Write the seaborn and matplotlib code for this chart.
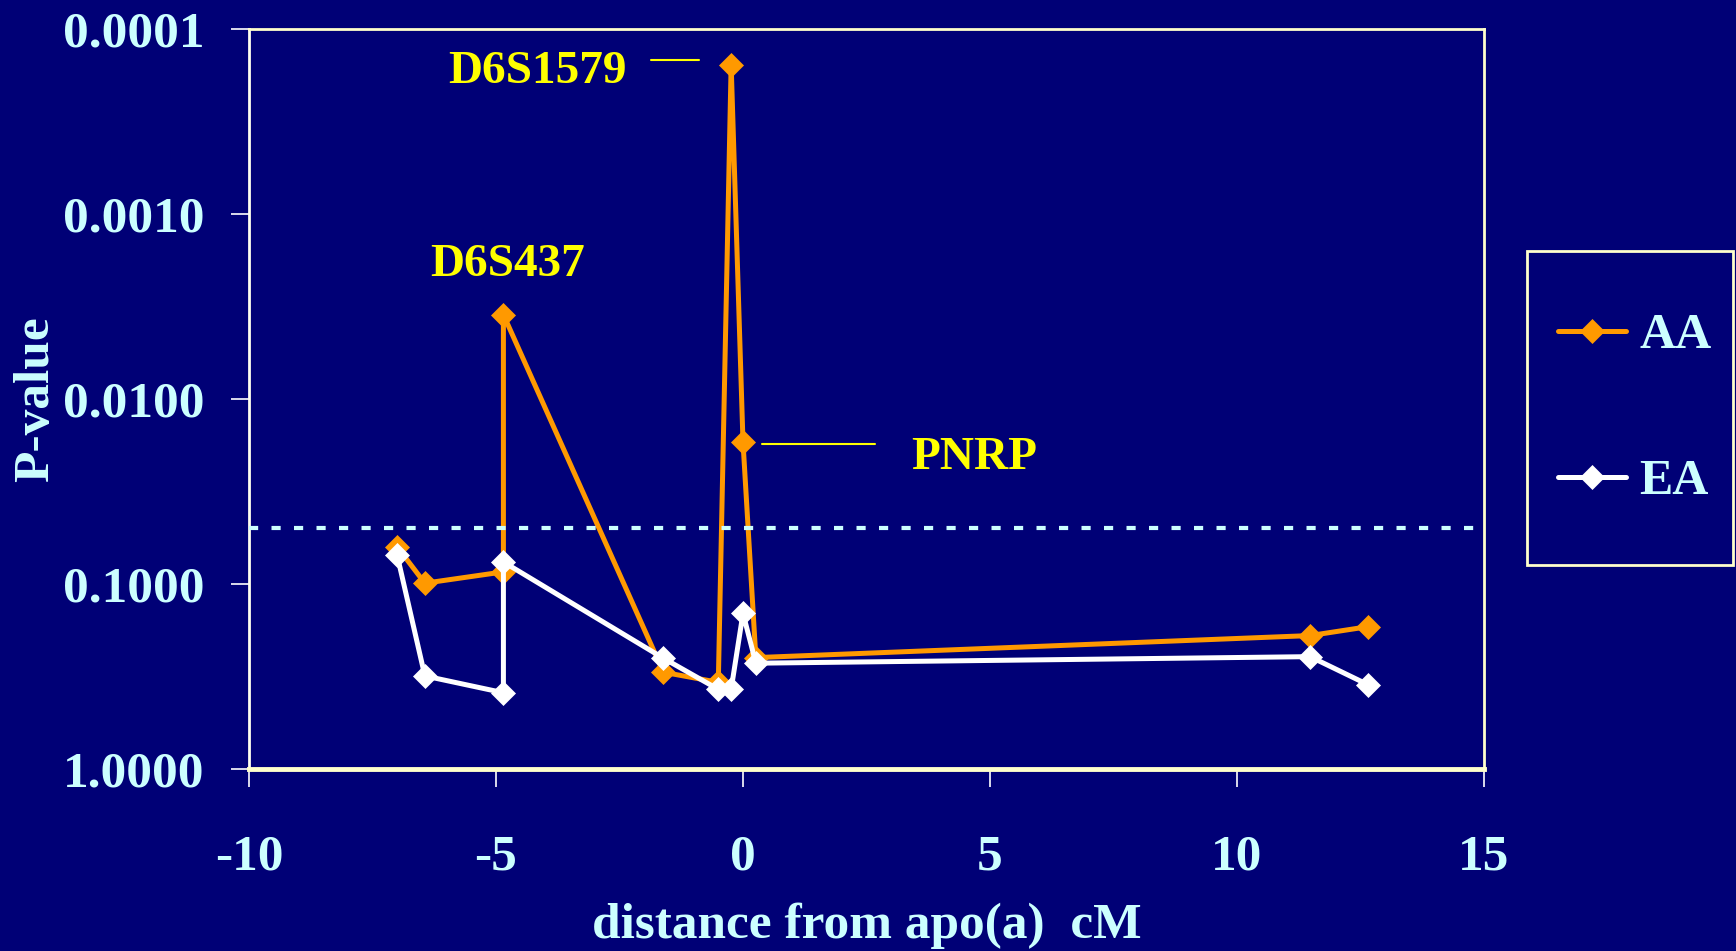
import matplotlib
matplotlib.use('Agg')
import matplotlib.pyplot as plt
import seaborn as sns
import pandas as pd
from matplotlib.patches import Rectangle
from matplotlib.ticker import FixedLocator, FixedFormatter, NullLocator

# ---- data ----
aa_dist = [-7.0, -6.44, -4.85, -4.85, -1.61, -0.50, -0.24, 0.0, 0.26, 11.48, 12.66]
aa_p = [0.063, 0.099, 0.086, 0.0035, 0.30, 0.34, 0.000156, 0.0171, 0.25, 0.19, 0.17]
ea_dist = [-7.0, -6.44, -4.85, -4.85, -1.61, -0.50, -0.24, 0.0, 0.26, 11.48, 12.66]
ea_p = [0.070, 0.314, 0.387, 0.076, 0.252, 0.371, 0.371, 0.144, 0.268, 0.247, 0.351]
threshold = 0.05
ytick_vals = [1e-4, 1e-3, 1e-2, 1e-1, 1.0]
ytick_labels = ['0.0001', '0.0010', '0.0100', '0.1000', '1.0000']
xtick_vals = [-10, -5, 0, 5, 10, 15]
series_names = ['AA', 'EA']

BG = '#000076'
ORANGE = '#FF9900'
WHITE = '#FFFFFF'
CYAN = '#CCFFFF'
YELLOW = '#FFFF00'
CREAM = '#FFFFCC'

sns.set_theme(style='white')
plt.rcParams['font.family'] = ['Liberation Serif', 'DejaVu Serif']
plt.rcParams['font.weight'] = 'bold'
plt.rcParams['axes.labelweight'] = 'bold'

fig = plt.figure(figsize=(17.36, 9.51), dpi=100, facecolor=BG)
ax = fig.add_axes([249/1736, 1-769/951, (1484-249)/1736, (769-29)/951])
ax.set_facecolor(BG)

aa_df = pd.DataFrame({'distance': aa_dist, 'p': aa_p})
ea_df = pd.DataFrame({'distance': ea_dist, 'p': ea_p})

sns.lineplot(data=aa_df, x='distance', y='p', sort=False, estimator=None,
             color=ORANGE, marker='D', markersize=12.5, markeredgecolor=ORANGE,
             markeredgewidth=0.5, lw=3.6, ax=ax, label=series_names[0], zorder=2,
             solid_capstyle='round')
sns.lineplot(data=ea_df, x='distance', y='p', sort=False, estimator=None,
             color=WHITE, marker='D', markersize=12.5, markeredgecolor=WHITE,
             markeredgewidth=0.5, lw=3.6, ax=ax, label=series_names[1], zorder=2.5,
             solid_capstyle='round')

ax.axhline(threshold, color=CYAN, lw=3.0, dashes=(2.2, 3.2), zorder=3)

ax.set_yscale('log')
ax.set_ylim(1.0, 1e-4)
ax.set_xlim(-10, 15)
ax.yaxis.set_major_locator(FixedLocator(ytick_vals))
ax.yaxis.set_major_formatter(FixedFormatter(ytick_labels))
ax.yaxis.set_minor_locator(NullLocator())
ax.set_xticks(xtick_vals)
ax.set_xticklabels([str(v) for v in xtick_vals])

ax.tick_params(axis='both', which='major', direction='out', color='white',
               width=1.2, length=13, labelcolor=CYAN, labelsize=37,
               left=True, bottom=True)
ax.tick_params(axis='y', pad=19)
ax.tick_params(axis='x', pad=34)

for side, sp in ax.spines.items():
    sp.set_visible(True)
    sp.set_color(CREAM)
    sp.set_linewidth(2)
ax.spines['bottom'].set_linewidth(3.5)
ax.spines['left'].set_color('#FFFFF0')

ax.set_xlabel('distance from apo(a)  cM', color=CYAN, fontsize=37, labelpad=16)
ax.set_ylabel('P-value', color=CYAN, fontsize=37, labelpad=3)

# annotations
ax.text(-4.17, 10**-3.706, 'D6S1579', ha='center', va='baseline',
        color=YELLOW, fontsize=34, fontweight='bold')
ax.plot([-1.86, -0.89], [10**-3.831] * 2, color=YELLOW, lw=1.5)
ax.text(-4.77, 10**-2.665, 'D6S437', ha='center', va='baseline',
        color=YELLOW, fontsize=34, fontweight='bold')
ax.text(4.67, 10**-1.623, 'PNRP', ha='center', va='baseline',
        color=YELLOW, fontsize=34, fontweight='bold')
ax.plot([0.38, 2.67], [10**-1.757] * 2, color=YELLOW, lw=1.5)

# legend
leg = ax.legend(loc='center', bbox_to_anchor=(1635/1736, 1-409/951),
                bbox_transform=fig.transFigure, frameon=False, fontsize=36,
                handlelength=1.35, handletextpad=0.27, labelspacing=2.0,
                borderpad=0, labelcolor=CYAN)
fig.add_artist(Rectangle((1527/1736, 1-565/951), (1733-1527)/1736, (565-251)/951,
                         transform=fig.transFigure, fill=False, ec=CREAM, lw=2))

fig.savefig('out.png', dpi=100, facecolor=BG)
